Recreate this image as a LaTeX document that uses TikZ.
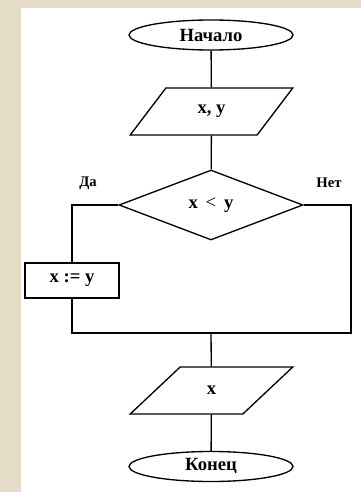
\documentclass[tikz,border=0pt]{standalone}
\usepackage{fontspec}
\setmainfont{Liberation Serif}
\usetikzlibrary{shapes.geometric}
\definecolor{beige}{RGB}{228,220,198}
\tikzset{
  line/.style={draw=black, line width=1pt},
  txt/.style={font=\fontsize{14}{16}\selectfont\bfseries},
  term/.style={ellipse, line, txt, minimum width=123pt, minimum height=22.5pt, inner sep=0pt},
  io/.style={trapezium, trapezium left angle=49, trapezium right angle=131, trapezium stretches=true, line, txt, minimum width=122pt, minimum height=35.25pt, inner sep=0pt},
  cond/.style={diamond, line, txt, minimum width=138pt, minimum height=52.5pt, inner sep=0pt},
  proc/.style={rectangle, line, txt, minimum width=70.5pt, minimum height=26.25pt, inner sep=0pt},
  lbl/.style={inner sep=0pt, font=\fontsize{11}{13}\selectfont\bfseries}
}
\begin{document}
\begin{tikzpicture}[x=0.75pt, y=-0.75pt]
\useasboundingbox (0,0) rectangle (361,492);
\fill[white] (0,0) rectangle (361,492);
\fill[beige] (0,0) rectangle (21,492);
\fill[beige] (0,0) rectangle (361,8);

\node[term] (start) at (211,35) {Начало};
\node[io] (in) at (211.5,111.5) {x, y};
\node[cond] (dec) at (211,205) {x \,\textmd{<}\, y};
\node[proc] (asg) at (72,280.5) {x := y};
\node[io] (out) at (211.5,390.5) {x};
\node[term] (stop) at (211,466.5) {Конец};

\node[lbl] (yes) at (88,183) {Да};
\node[lbl] (no) at (329,183) {Нет};

\coordinate (rt) at (351,205);
\coordinate (br) at (351,333);
\coordinate (bl) at (72,333);
\coordinate (jn) at (211,333);

\draw[line] (start) -- (in);
\draw[line] (in) -- (dec);
\draw[line] (dec.west) -| (asg.north);
\draw[line] (dec.east) -- (rt) -- (br) -- (bl) -- (asg.south);
\draw[line] (jn) -- (out);
\draw[line] (out) -- (stop);
\end{tikzpicture}
\end{document}
